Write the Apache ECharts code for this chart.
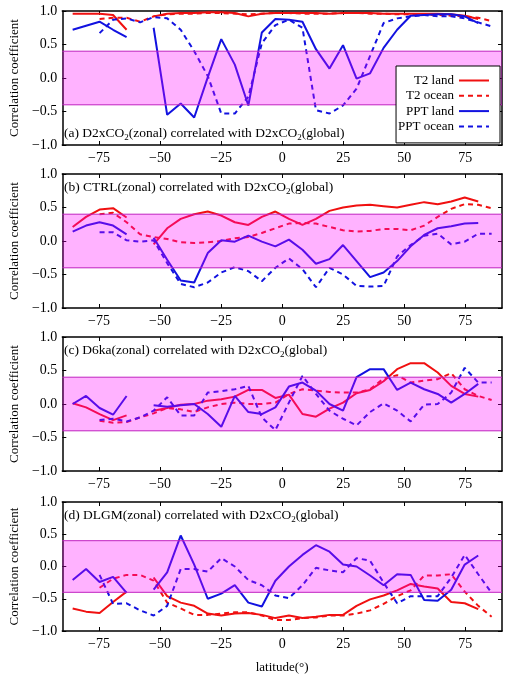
<!DOCTYPE html>
<html>
<head>
<meta charset="utf-8">
<script src="https://cdn.jsdelivr.net/npm/echarts@6/dist/echarts.min.js"></script>
<style>
  html, body { margin: 0; padding: 0; background: #fff; }
  #chart { width: 508px; height: 675px; }
</style>
</head>
<body>
<div id="chart"></div>
<script>
// T21 gaussian latitudes
var latitudes = [-85.76, -80.27, -74.74, -69.21, -63.68, -58.14, -52.61, -47.07, -41.53, -36.00, -30.46, -24.92, -19.38, -13.84, -8.31, -2.77,
  2.77, 8.31, 13.84, 19.38, 24.92, 30.46, 36.00, 41.53, 47.07, 52.61, 58.14, 63.68, 69.21, 74.74, 80.27, 85.76];

// (a) D2xCO2
var aT2land = [0.96, 0.96, 0.96, 0.94, 0.72, null, 0.92, 0.96, 0.97, 0.97, 0.98, 0.98, 0.97, 0.92, 0.96, 0.97, 0.97, 0.97, 0.97, 0.96, 0.97, 0.97, 0.97, 0.96, 0.96, 0.96, 0.96, 0.96, 0.95, 0.93, 0.88, null];
var aT2ocean = [null, null, 0.88, 0.9, 0.9, 0.84, 0.92, 0.95, 0.96, 0.96, 0.97, 0.97, 0.96, 0.95, 0.96, 0.97, 0.97, 0.96, 0.96, 0.96, 0.97, 0.97, 0.96, 0.96, 0.95, 0.95, 0.95, 0.94, 0.93, 0.92, 0.9, 0.85];
var aPPTland = [0.72, 0.78, 0.84, 0.72, 0.61, null, 0.75, -0.55, -0.38, -0.59, 0.01, 0.58, 0.2, -0.41, 0.68, 0.88, 0.87, 0.84, 0.43, 0.14, 0.49, -0.01, 0.07, 0.45, 0.72, 0.93, 0.94, 0.95, 0.95, 0.92, 0.82, null];
var aPPTocean = [null, null, 0.67, 0.87, 0.89, 0.83, 0.91, 0.89, 0.72, 0.4, 0.03, -0.53, -0.53, -0.28, 0.52, 0.79, 0.87, 0.75, -0.48, -0.53, -0.41, -0.16, 0.33, 0.82, 0.89, 0.92, 0.94, 0.92, 0.92, 0.89, 0.83, 0.77];

// (b) CTRL
var bT2land = [0.21, 0.36, 0.47, 0.49, 0.35, null, -0.05, 0.19, 0.33, 0.4, 0.44, 0.38, 0.28, 0.24, 0.36, 0.44, 0.33, 0.24, 0.33, 0.45, 0.5, 0.53, 0.54, 0.52, 0.5, 0.54, 0.58, 0.55, 0.59, 0.65, 0.59, null];
var bT2ocean = [null, null, 0.4, 0.42, 0.28, 0.1, 0.06, 0.03, -0.02, -0.03, -0.02, 0.0, 0.04, 0.06, 0.12, 0.19, 0.26, 0.27, 0.26, 0.21, 0.16, 0.14, 0.15, 0.18, 0.18, 0.16, 0.23, 0.36, 0.48, 0.55, 0.54, 0.49];
var bPPTland = [0.14, 0.23, 0.28, 0.23, 0.1, null, 0.05, -0.28, -0.59, -0.62, -0.18, 0.01, -0.01, 0.08, -0.01, -0.08, 0.02, -0.13, -0.34, -0.27, -0.06, -0.3, -0.54, -0.47, -0.3, -0.08, 0.09, 0.19, 0.22, 0.26, 0.27, null];
var bPPTocean = [null, null, 0.13, 0.13, 0.01, -0.01, 0.01, -0.33, -0.64, -0.69, -0.62, -0.47, -0.39, -0.45, -0.6, -0.4, -0.26, -0.42, -0.69, -0.4, -0.5, -0.67, -0.68, -0.67, -0.23, -0.06, 0.08, 0.11, -0.05, -0.01, 0.11, 0.11];

// (c) D6ka
var cT2land = [0.01, -0.05, -0.15, -0.24, -0.17, null, -0.1, -0.06, -0.01, 0.0, 0.05, 0.07, 0.11, 0.21, 0.21, 0.09, 0.14, -0.15, -0.19, -0.07, 0.02, 0.16, 0.21, 0.34, 0.52, 0.61, 0.61, 0.47, 0.27, 0.15, 0.11, null];
var cT2ocean = [null, null, -0.25, -0.28, -0.27, -0.2, -0.14, -0.06, -0.08, -0.12, -0.05, 0.0, 0.02, 0.0, 0.0, 0.02, 0.15, 0.22, 0.2, 0.18, 0.17, 0.17, 0.22, 0.38, 0.43, 0.32, 0.35, 0.37, 0.46, 0.22, 0.12, 0.06];
var cPPTland = [0.0, 0.12, -0.06, -0.16, 0.12, null, -0.02, -0.04, -0.02, 0.0, -0.15, -0.34, 0.12, -0.12, -0.15, -0.05, 0.26, 0.32, 0.2, 0.0, -0.1, 0.4, 0.52, 0.52, 0.21, 0.32, 0.22, 0.15, 0.02, 0.15, 0.3, null];
var cPPTocean = [null, null, -0.24, -0.22, -0.26, -0.2, -0.1, 0.1, -0.17, -0.17, 0.17, 0.19, 0.22, 0.27, -0.2, -0.39, 0.02, 0.42, 0.15, -0.1, -0.22, -0.32, -0.12, 0.01, -0.1, -0.26, -0.01, 0.0, 0.17, 0.54, 0.32, 0.32];

// (d) DLGM
var dT2land = [-0.65, -0.7, -0.72, -0.55, -0.39, null, -0.17, -0.46, -0.56, -0.61, -0.73, -0.76, -0.73, -0.72, -0.75, -0.8, -0.76, -0.8, -0.78, -0.75, -0.75, -0.61, -0.51, -0.45, -0.37, -0.27, -0.31, -0.34, -0.55, -0.57, -0.66, null];
var dT2ocean = [null, null, -0.33, -0.19, -0.13, -0.13, -0.22, -0.56, -0.65, -0.75, -0.75, -0.73, -0.71, -0.71, -0.76, -0.83, -0.83, -0.8, -0.79, -0.76, -0.76, -0.73, -0.68, -0.58, -0.46, -0.37, -0.14, -0.14, -0.12, -0.39, -0.61, -0.78];
var dPPTland = [-0.21, -0.04, -0.24, -0.16, -0.41, null, -0.36, -0.09, 0.48, 0.03, -0.5, -0.42, -0.29, -0.56, -0.62, -0.22, 0.0, 0.18, 0.33, 0.23, 0.03, 0.0, -0.14, -0.29, -0.12, -0.13, -0.52, -0.53, -0.36, 0.03, 0.17, null];
var dPPTocean = [null, null, -0.13, -0.58, -0.57, -0.68, -0.76, -0.61, -0.04, -0.04, -0.08, 0.13, 0.0, -0.21, -0.29, -0.45, -0.49, -0.29, -0.02, -0.06, -0.09, 0.13, 0.09, -0.25, -0.57, -0.46, -0.46, -0.46, -0.17, 0.18, -0.12, -0.41];

var xTicks = [-75, -50, -25, 0, 25, 50, 75];
var bandLow = -0.4, bandHigh = 0.4;

var panelTitles = [
  '(a) D2xCO{s|2}(zonal) correlated with D2xCO{s|2}(global)',
  '(b) CTRL(zonal) correlated with D2xCO{s|2}(global)',
  '(c) D6ka(zonal) correlated with D2xCO{s|2}(global)',
  '(d) DLGM(zonal) correlated with D2xCO{s|2}(global)'
];
var panelData = [
  [aT2land, aT2ocean, aPPTland, aPPTocean],
  [bT2land, bT2ocean, bPPTland, bPPTocean],
  [cT2land, cT2ocean, cPPTland, cPPTocean],
  [dT2land, dT2ocean, dPPTland, dPPTocean]
];
var seriesNames = ['T2 land', 'T2 ocean', 'PPT land', 'PPT ocean'];

var FONT = 'Liberation Serif';
var RED = '#f01010', BLUE = '#1212e0';
var seriesColors = [RED, RED, BLUE, BLUE];
var seriesDash = ['solid', [5, 4], 'solid', [5, 4]];
var gridTops = [11, 174, 337, 502];
var titleTops = [124, 178, 341, 506];

function minus(s) { return String(s).replace('-', '\u2212'); }

var myChart = echarts.init(document.getElementById('chart'));

var frameLine = { show: true, onZero: false, lineStyle: { color: '#000', width: 1.5 } };
var grid = [], xAxis = [], yAxis = [], series = [], title = [];
gridTops.forEach(function (top, i) {
  grid.push({ left: 62, right: 6, top: top, height: 134 });
  // bottom x axis
  xAxis.push({
    type: 'value', gridIndex: i, min: -90, max: 90,
    axisLine: frameLine,
    axisTick: { show: true, inside: true, length: 4, customValues: xTicks, lineStyle: { color: '#000' } },
    axisLabel: { show: true, customValues: xTicks, formatter: minus, fontFamily: FONT, fontSize: 14, color: '#000', margin: 6 },
    splitLine: { show: false },
    name: i === 3 ? 'latitude(\u00b0)' : '',
    nameLocation: 'middle', nameGap: 30,
    nameTextStyle: { fontFamily: FONT, fontSize: 13, color: '#000' }
  });
  // top x axis (frame only)
  xAxis.push({
    type: 'value', gridIndex: i, min: -90, max: 90, position: 'top',
    axisLine: frameLine,
    axisTick: { show: true, inside: true, length: 4, customValues: xTicks, lineStyle: { color: '#000' } },
    axisLabel: { show: false }, splitLine: { show: false }
  });
  yAxis.push({
    type: 'value', gridIndex: i, min: -1, max: 1, interval: 0.5,
    axisLine: frameLine,
    axisTick: { show: true, inside: true, length: 4, lineStyle: { color: '#000' } },
    axisLabel: { formatter: function (v) { return minus(v.toFixed(1)); }, fontFamily: FONT, fontSize: 14, color: '#000', margin: 5 },
    splitLine: { show: false },
    name: 'Correlation coefficient', nameLocation: 'middle', nameGap: 40,
    nameTextStyle: { fontFamily: FONT, fontSize: 13, color: '#000' }
  });
  yAxis.push({
    type: 'value', gridIndex: i, min: -1, max: 1, interval: 0.5, position: 'right',
    axisLine: frameLine,
    axisTick: { show: true, inside: true, length: 4, lineStyle: { color: '#000' } },
    axisLabel: { show: false }, splitLine: { show: false }
  });

  panelData[i].forEach(function (vals, k) {
    series.push({
      name: seriesNames[k], type: 'line',
      xAxisIndex: i * 2, yAxisIndex: i * 2,
      data: latitudes.map(function (lat, j) { return [lat, vals[j]]; }),
      symbol: 'none', showSymbol: false, connectNulls: false,
      lineStyle: { color: seriesColors[k], width: 2, type: seriesDash[k] },
      itemStyle: { color: seriesColors[k] },
      z: 2
    });
  });

  // translucent band drawn over the lines
  series.push({
    type: 'custom', xAxisIndex: i * 2, yAxisIndex: i * 2, silent: true, zlevel: 1, z: 10,
    data: [[bandLow, bandHigh]],
    encode: { y: [0, 1] },
    renderItem: function (params, api) {
      var p1 = api.coord([-90, api.value(1)]);
      var p2 = api.coord([90, api.value(0)]);
      return {
        type: 'group',
        children: [
          { type: 'rect', shape: { x: p1[0], y: p1[1], width: p2[0] - p1[0], height: p2[1] - p1[1] }, style: { fill: 'rgba(255,0,255,0.3)' } },
          { type: 'line', shape: { x1: p1[0], y1: p1[1], x2: p2[0], y2: p1[1] }, style: { stroke: '#c020c0', lineWidth: 1 } },
          { type: 'line', shape: { x1: p1[0], y1: p2[1], x2: p2[0], y2: p2[1] }, style: { stroke: '#c020c0', lineWidth: 1 } }
        ]
      };
    }
  });

  title.push({
    text: panelTitles[i], left: 64, top: titleTops[i], padding: 0,
    textStyle: {
      fontFamily: FONT, fontSize: 13.5, fontWeight: 'normal', color: '#000',
      rich: {
        s: { fontFamily: FONT, fontSize: 9, verticalAlign: 'bottom', lineHeight: 18, color: '#000' }
      }
    }
  });
});

myChart.setOption({
  animation: false,
  backgroundColor: '#fff',
  title: title,
  grid: grid,
  xAxis: xAxis,
  yAxis: yAxis,
  legend: {
    data: seriesNames, orient: 'vertical', right: 8, top: 66, align: 'right',
    itemWidth: 30, itemHeight: 12, itemGap: 2.3,
    padding: [8, 10, 10, 2],
    itemStyle: { opacity: 0 },
    backgroundColor: '#fff', borderColor: '#000', borderWidth: 1,
    textStyle: { fontFamily: FONT, fontSize: 13, color: '#000' },
    zlevel: 2, z: 20
  },
  series: series
});
</script>
</body>
</html>
